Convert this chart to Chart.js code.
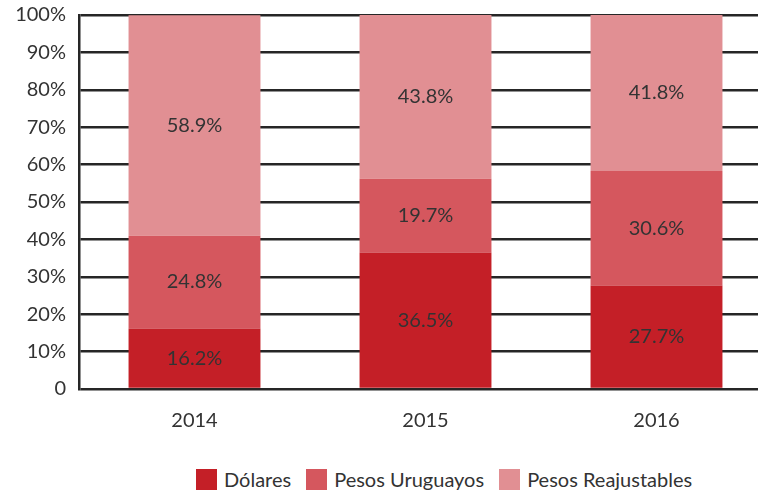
<!DOCTYPE html>
<html>
  <head>
    <meta charset="utf-8" />
    <title>Moneda</title>
    <script src="https://cdn.jsdelivr.net/npm/chart.js"></script>
    <style>
      html, body { margin: 0; padding: 0; overflow: hidden; background: #fff; }
      #wrap { position: relative; width: 772px; height: 440px; }
      #legend {
        position: absolute; left: 196px; top: 467px;
        display: flex; align-items: center;
        font-family: Lato, sans-serif; font-size: 20px; color: #333;
      }
      #legend span.box { display: inline-block; width: 21px; height: 21px; margin-right: 7px; }
      #legend span.item { display: inline-flex; align-items: center; margin-right: 15px; }
    </style>
  </head>
  <body>
    <div id="wrap"><canvas id="myChart"></canvas></div>
    <div id="legend"></div>

    <script>
      const years = ["2014", "2015", "2016"];
      const dolares = [16.2, 36.5, 27.7];
      const pesosUruguayos = [24.8, 19.7, 30.6];
      const pesosReajustables = [58.9, 43.8, 41.8];
      const seriesNames = ["Dólares", "Pesos Uruguayos", "Pesos Reajustables"];
      const colors = ["#c41f27", "#d5575e", "#e18f93"];

      const data = {
        labels: years,
        datasets: [
          { label: seriesNames[0], data: dolares, backgroundColor: colors[0] },
          { label: seriesNames[1], data: pesosUruguayos, backgroundColor: colors[1] },
          { label: seriesNames[2], data: pesosReajustables, backgroundColor: colors[2] },
        ],
      };

      // writes the value in the middle of each bar segment
      const barLabels = {
        id: "barLabels",
        afterDatasetsDraw(chart) {
          const ctx = chart.ctx;
          ctx.save();
          ctx.font = "20px Lato";
          ctx.fillStyle = "#333";
          ctx.textAlign = "center";
          ctx.textBaseline = "middle";
          chart.data.datasets.forEach(function (ds, i) {
            chart.getDatasetMeta(i).data.forEach(function (bar, j) {
              const y = (bar.y + bar.base) / 2;
              ctx.fillText(ds.data[j].toFixed(1) + "%", bar.x, y);
            });
          });
          ctx.restore();
        },
      };

      const config = {
        type: "bar",
        data: data,
        plugins: [barLabels],
        options: {
          responsive: true,
          maintainAspectRatio: false,
          animation: false,
          layout: { padding: { top: 15, bottom: 0, left: 0, right: 0 } },
          datasets: {
            bar: { barPercentage: 0.571, categoryPercentage: 1 },
          },
          plugins: {
            legend: { display: false },
            tooltip: { enabled: false },
          },
          scales: {
            x: {
              stacked: true,
              afterFit(scale) {
                scale.height = 51;
              },
              grid: { display: false, drawTicks: false },
              border: { display: false },
              ticks: {
                padding: 20,
                color: "#333",
                font: { family: "Lato", size: 20 },
              },
            },
            y: {
              stacked: true,
              min: 0,
              max: 100,
              afterFit(scale) {
                scale.width = 79;
                scale.paddingTop = 0;
                scale.paddingBottom = 0;
              },
              grid: { color: "#262626", lineWidth: 2.5, drawTicks: false },
              border: { display: true, color: "#262626", width: 2.5 },
              ticks: {
                stepSize: 10,
                padding: 13,
                color: "#333",
                font: { family: "Lato", size: 20 },
                callback: function (v) {
                  return v === 0 ? "0" : v + "%";
                },
              },
            },
          },
        },
      };

      const myChart = new Chart(document.getElementById("myChart"), config);

      const legend = document.getElementById("legend");
      seriesNames.forEach(function (name, i) {
        const item = document.createElement("span");
        item.className = "item";
        const box = document.createElement("span");
        box.className = "box";
        box.style.background = colors[i];
        item.appendChild(box);
        item.appendChild(document.createTextNode(name));
        legend.appendChild(item);
      });
    </script>
  </body>
</html>
